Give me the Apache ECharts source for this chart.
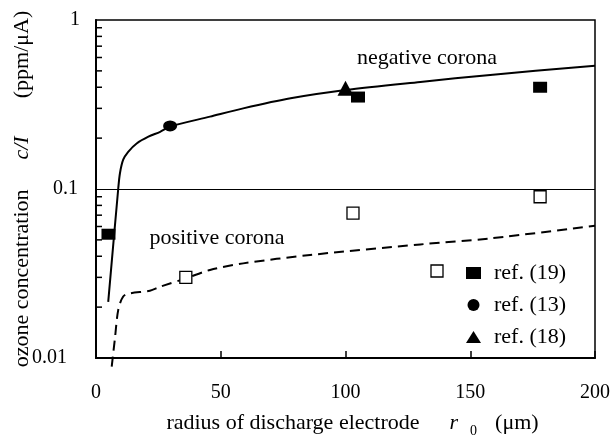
<!DOCTYPE html>
<html>
<head>
<meta charset="utf-8">
<script src="https://cdn.jsdelivr.net/npm/echarts@6/dist/echarts.min.js"></script>
<style>html,body{margin:0;padding:0;background:#fff}#c{width:615px;height:438px}</style>
</head>
<body>
<div id="c"></div>
<script>
// ---- data ----
const negCurveR = [4.9, 8.9, 9.6, 10.9, 12.9, 16.3, 21, 25.7, 29.7, 45.7, 59, 78, 100, 130, 158, 200];
const negCurveV = [0.0215, 0.1, 0.124, 0.149, 0.166, 0.186, 0.204, 0.218, 0.234, 0.268, 0.30, 0.344, 0.385, 0.43, 0.473, 0.537];
const posCurveR = [6.3, 7.6, 8.9, 10.9, 13.6, 21.6, 25.7, 36, 45.7, 59, 85.8, 130, 158, 200];
const posCurveV = [0.0089, 0.0131, 0.0192, 0.0231, 0.0241, 0.025, 0.0264, 0.0296, 0.0332, 0.0363, 0.0407, 0.047, 0.051, 0.0607];
const ref19NegR = [5, 105, 178];
const ref19NegV = [0.054, 0.35, 0.40];
const ref19PosR = [36, 103, 178];
const ref19PosV = [0.030, 0.072, 0.090];
const ref13R = [29.7];
const ref13V = [0.236];
const ref18R = [100];
const ref18V = [0.395];
const xTickValues = [0, 50, 100, 150, 200];
const yTickLabels = ['0.01', '0.1', '1'];
const yMinorTicks = [0.02, 0.03, 0.04, 0.05, 0.06, 0.07, 0.08, 0.09, 0.2, 0.3, 0.4, 0.5, 0.6, 0.7, 0.8, 0.9];
const legendNames = ['ref. (19)', 'ref. (13)', 'ref. (18)'];

const zip = (a, b) => a.map((v, i) => [v, b[i]]);
const FONT = 'Liberation Serif';

const chart = echarts.init(document.getElementById('c'), null, {renderer: 'canvas'});
chart.setOption({
  animation: false,
  backgroundColor: '#fff',
  textStyle: {fontFamily: FONT, color: '#000'},
  grid: {left: 96, right: 20, top: 20, bottom: 80, containLabel: false, outerBoundsMode: 'none',
         show: true, borderColor: '#000', borderWidth: 1.5, backgroundColor: 'transparent'},
  xAxis: {
    type: 'value', min: 0, max: 200, interval: 50,
    axisLine: {lineStyle: {color: '#000', width: 2}},
    axisTick: {inside: true, length: 7, lineStyle: {color: '#000', width: 1.5}},
    axisLabel: {fontSize: 20, fontFamily: FONT, color: '#000', margin: 25,
      formatter: v => String(xTickValues[xTickValues.indexOf(v)])},
    splitLine: {show: false},
    name: '{a|radius of discharge electrode}{i|r}{s|0}{b|(μm)}',
    nameLocation: 'middle', nameGap: 54, nameMoveOverlap: false,
    nameTextStyle: {
      fontFamily: FONT, color: '#000', fontSize: 22,
      rich: {
        a: {fontFamily: FONT, fontSize: 22, color: '#000', lineHeight: 23, padding: [0, 0, 0, 14]},
        i: {fontFamily: FONT, fontSize: 22, color: '#000', fontStyle: 'italic', lineHeight: 23, padding: [0, 0, 0, 30]},
        s: {fontFamily: FONT, fontSize: 14, color: '#000', lineHeight: 14, padding: [15, 0, 0, 12]},
        b: {fontFamily: FONT, fontSize: 22, color: '#000', lineHeight: 23, padding: [0, 0, 0, 18]}
      }
    }
  },
  yAxis: {
    type: 'log', logBase: 10, min: 0.01, max: 1,
    axisLine: {lineStyle: {color: '#000', width: 2}},
    axisTick: {show: false},
    splitLine: {show: false},
    minorTick: {show: false},
    axisLabel: {
      fontSize: 20, fontFamily: FONT, color: '#000', margin: 16,
      formatter: v => {
        const i = Math.round(Math.log10(v)) + 2;
        return '{l' + i + '|' + yTickLabels[i] + '}';
      },
      rich: {
        l0: {fontSize: 20, fontFamily: FONT, color: '#000', padding: [0, 13, 0, 0]},
        l1: {fontSize: 20, fontFamily: FONT, color: '#000', padding: [0, 2, 0, 0]},
        l2: {fontSize: 20, fontFamily: FONT, color: '#000', padding: [0, 0, 0, 0]}
      }
    },
    name: '{a|ozone concentration}{i|c/I}{b|(ppm/μA)}',
    nameLocation: 'middle', nameGap: 63, nameMoveOverlap: false,
    nameTextStyle: {
      fontFamily: FONT, color: '#000', fontSize: 22,
      rich: {
        a: {fontFamily: FONT, fontSize: 22, color: '#000'},
        i: {fontFamily: FONT, fontSize: 22, color: '#000', fontStyle: 'italic', padding: [0, 0, 0, 30]},
        b: {fontFamily: FONT, fontSize: 22, color: '#000', padding: [0, 0, 0, 38]}
      }
    }
  },
  legend: {
    orient: 'vertical', left: 461, top: 257,
    itemWidth: 15, itemHeight: 12, itemGap: 10,
    data: legendNames,
    textStyle: {fontFamily: FONT, fontSize: 22, color: '#000', padding: [0, 0, 0, 8]},
    selectedMode: false
  },
  graphic: [
    {type: 'rect', shape: {x: 431, y: 265, width: 12, height: 12}, style: {fill: '#fff', stroke: '#000', lineWidth: 1.3}, z: 100},
    {type: 'text', x: 427, y: 58, style: {text: 'negative corona', font: '22px "Liberation Serif"', fill: '#000', align: 'center', verticalAlign: 'middle'}, z: 100},
    {type: 'text', x: 217, y: 238, style: {text: 'positive corona', font: '22px "Liberation Serif"', fill: '#000', align: 'center', verticalAlign: 'middle'}, z: 100}
  ],
  series: [
    {
      name: 'negative corona', type: 'line', data: zip(negCurveR, negCurveV), showSymbol: false, symbol: 'none',
      smooth: 0.3, lineStyle: {color: '#000', width: 2}, clip: false, silent: true, z: 2,
      markLine: {silent: true, symbol: 'none', label: {show: false}, lineStyle: {color: '#000', width: 1, type: 'solid'}, data: [{yAxis: 0.1}]}
    },
    {
      name: 'positive corona', type: 'line', data: zip(posCurveR, posCurveV), showSymbol: false, symbol: 'none',
      smooth: 0.3, lineStyle: {color: '#000', width: 2, type: [10, 6]}, clip: false, silent: true, z: 2
    },
    {
      name: 'minor ticks', type: 'custom', silent: true, z: 5,
      data: yMinorTicks.map(v => [0, v]),
      renderItem: (params, api) => {
        const p = api.coord([api.value(0), api.value(1)]);
        return {type: 'line', shape: {x1: p[0], y1: p[1], x2: p[0] + 6, y2: p[1]}, style: {stroke: '#000', lineWidth: 1.5}};
      }
    },
    {
      name: 'ref. (19)', type: 'scatter', data: zip(ref19NegR, ref19NegV), symbol: 'rect', symbolSize: [14, 11],
      itemStyle: {color: '#000', opacity: 1}, z: 10
    },
    {
      name: 'ref. (19) positive', type: 'scatter', data: zip(ref19PosR, ref19PosV), symbol: 'rect', symbolSize: [12, 12],
      itemStyle: {color: '#fff', borderColor: '#000', borderWidth: 1.3, opacity: 1}, z: 10
    },
    {
      name: 'ref. (13)', type: 'scatter', data: zip(ref13R, ref13V), symbol: 'circle', symbolSize: [14, 11],
      itemStyle: {color: '#000', opacity: 1}, z: 10
    },
    {
      name: 'ref. (18)', type: 'scatter', data: zip(ref18R, ref18V), symbol: 'triangle', symbolSize: [16, 15],
      itemStyle: {color: '#000', opacity: 1}, z: 10
    }
  ]
});
</script>
</body>
</html>
